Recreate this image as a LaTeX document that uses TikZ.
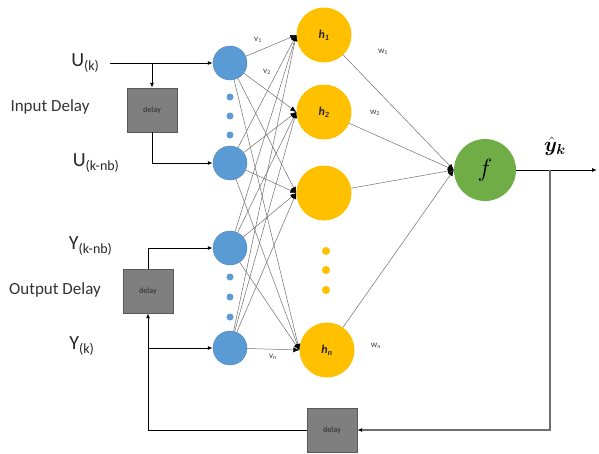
\documentclass[tikz,border=0pt]{standalone}
\usepackage{fontspec}
\usepackage{bm}
\setmainfont{Carlito}
\usetikzlibrary{arrows.meta}
\definecolor{inblue}{HTML}{5B9BD5}
\definecolor{hidyellow}{HTML}{FFC000}
\definecolor{outgreen}{HTML}{70AD47}
\definecolor{delaygray}{HTML}{7F7F7F}
\definecolor{wiregray}{HTML}{6E6E6E}
\begin{document}
\begin{tikzpicture}[x=1pt,y=-1pt,
        inunit/.style={circle,fill=inblue,draw=inblue!85!black,minimum size=34pt,inner sep=0pt},
        hidunit/.style={circle,fill=hidyellow,minimum size=55pt,inner sep=0pt,font=\large\bfseries\itshape,text=black!85},
        outunit/.style={circle,fill=outgreen,minimum size=62pt,inner sep=0pt},
        dotin/.style={circle,fill=inblue,minimum size=7pt,inner sep=0pt},
        dothid/.style={circle,fill=hidyellow,minimum size=8pt,inner sep=0pt},
        delaybox/.style={draw=delaygray!70!black,fill=delaygray,minimum width=50pt,minimum height=44pt,font=\footnotesize\bfseries,text=black!75},
        weight/.style={draw=wiregray,line width=0.5pt,-{Latex[length=6pt,width=5pt,color=black]}},
        signal/.style={draw=black,line width=1pt,-{Latex[length=5pt,width=4pt]}},
        feedback/.style={draw=wiregray,line width=1.3pt,-{Latex[length=5pt,width=4pt,color=black]}},
        wlabel/.style={font=\small,text=black!75},
        sig/.style={font=\fontsize{20}{24}\selectfont,text=black!85},
        group/.style={font=\fontsize{17}{20}\selectfont,text=black!80},
        ]
    \useasboundingbox (0,0) rectangle (599,453);

    % input layer
    \node (u1) [inunit] at (230,63) {};
    \node (u2) [inunit] at (230,163) {};
    \node (y1) [inunit] at (230,248) {};
    \node (y2) [inunit] at (230,348) {};
    \foreach \y [count=\i] in {97,116,135} {
        \node (ud\i) [dotin] at (230,\y) {};
    }
    \foreach \y [count=\i] in {277,297,317} {
        \node (yd\i) [dotin] at (230,\y) {};
    }

    % hidden layer
    \node (h1) [hidunit] at (324,35) {h\textsubscript{1}};
    \node (h2) [hidunit] at (324,112) {h\textsubscript{2}};
    \node (h3) [hidunit] at (324,193) {};
    \node (hn) [hidunit] at (327,350) {h\textsubscript{n}};
    \foreach \y [count=\i] in {251,270,290} {
        \node (hd\i) [dothid] at (326,\y) {};
    }

    % output
    \node (f) [outunit] at (485,170) {\Huge$f$};
    \node (yhat) at (555,146) {\huge$\hat{\bm{y}}_{\bm{k}}$};
    \coordinate (yend) at (597,170);
    \coordinate (fb) at (550,170);

    % delays
    \node (d1) [delaybox] at (152,110) {delay};
    \node (d2) [delaybox] at (148,291) {delay};
    \node (d3) [delaybox] at (332,430) {delay};

    % signal labels
    \node (ulab) [sig,anchor=east] at (103,63) {U\textsubscript{(k)}};
    \node (unblab) [sig,anchor=east] at (123,163) {U\textsubscript{(k-nb)}};
    \node (ynblab) [sig,anchor=east] at (116,246) {Y\textsubscript{(k-nb)}};
    \node (ylab) [sig,anchor=east] at (98,346) {Y\textsubscript{(k)}};
    \node (inlab) [group] at (50,107) {Input Delay};
    \node (outlab) [group] at (55,290) {Output Delay};

    % weights
    \node (v1) [wlabel] at (258,40) {v\textsubscript{1}};
    \node (v2) [wlabel] at (267,72) {v\textsubscript{2}};
    \node (vn) [wlabel] at (273,357) {v\textsubscript{n}};
    \node (w1) [wlabel] at (383,52) {w\textsubscript{1}};
    \node (w2) [wlabel] at (375,113) {w\textsubscript{2}};
    \node (wn) [wlabel] at (376,346) {w\textsubscript{n}};

    % connections
    \foreach \a in {u1,u2,y1,y2} {
        \foreach \b in {h1,h2,h3,hn} {
            \draw[weight] (\a) -- (\b.west);
        }
    }
    \foreach \b in {h1,h2,h3,hn} {
        \draw[weight] (\b) -- (f.west);
    }

    % tapped delay lines
    \coordinate (uin) at (110,63);
    \coordinate (usplit) at (d1.north |- u1);
    \draw[signal] (uin) -- (u1);
    \draw[signal] (usplit) -- (d1.north);
    \draw[signal] (d1.south) |- (u2);
    \draw[signal] (d2.north) |- (y1);
    \coordinate (ysplit) at (d2.south |- y2);
    \draw[signal] (ysplit) -- (y2);
    \draw[signal] (f.east) -- (yend);
    \draw[feedback] (fb) |- (d3.east);
    \draw[signal] (d3.west) -| (d2.south);
\end{tikzpicture}
\end{document}
